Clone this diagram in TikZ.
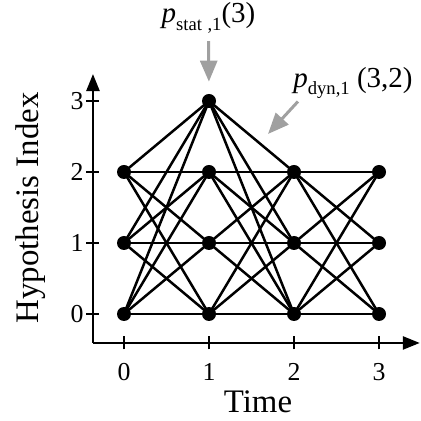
\documentclass[tikz,border=0pt]{standalone}
\usepackage{fontspec}
\setmainfont{Liberation Serif}
\usepackage{tikz}
\usetikzlibrary{
    arrows.meta,
    calc,
    positioning
}
\definecolor{hintgray}{HTML}{A0A0A0}
\tikzstyle{pointer}=[line width=0.06cm,draw=hintgray,-{Triangle[length=0.42cm,width=0.34cm]},hintgray]
\newcommand{\bigfont}{\fontsize{18.7}{22}\selectfont}
\newcommand{\tickfont}{\fontsize{14.7}{17}\selectfont}
\newcommand{\labfont}{\fontsize{16.5}{19}\selectfont}
\newcommand{\subfont}{\fontsize{10.6}{12}\selectfont}

\begin{document}
\begin{tikzpicture}[
    x=1.7cm,
    y=1.42cm,
    state/.style={
        circle,
        fill=black,
        inner sep=0pt,
        minimum size=0.28cm
    },
    edge/.style={
        line width=0.05cm,
        draw=black
    },
    axis/.style={
        line width=0.05cm,
        draw=black,
        -{Triangle[length=0.34cm,width=0.26cm]}
    },
    tick/.style={
        line width=0.05cm,
        draw=black
    },
    ticklabel/.style={
        inner sep=0pt,
        font=\tickfont
    }
]
\useasboundingbox (-1.4588,-1.507) rectangle (3.4941,4.4225);

% trellis states
\foreach \t in {0,2,3}
    \foreach \i in {0,1,2}
        \node[state] (s\t\i) at (\t,\i) {};
\foreach \i in {0,...,3}
    \node[state] (s1\i) at (1,\i) {};

% transitions
\foreach \i in {0,1,2}
    \foreach \j in {0,...,3}
        \draw[edge] (s0\i.center) -- (s1\j.center);
\foreach \i in {0,...,3}
    \foreach \j in {0,1,2}
        \draw[edge] (s1\i.center) -- (s2\j.center);
\foreach \i in {0,1,2}
    \foreach \j in {0,1,2}
        \draw[edge] (s2\i.center) -- (s3\j.center);

% axes
\coordinate (corner) at (-0.365,-0.408);
\coordinate (ytip) at (-0.365,3.38);
\coordinate (xtip) at (3.48,-0.408);
\draw[axis] (corner) -- (ytip);
\draw[axis] (corner) -- (xtip);
\foreach \i in {0,...,3} {
    \draw[tick] ([xshift=-0.13cm]-0.365,\i) -- ([xshift=0.13cm]-0.365,\i);
    \node[ticklabel] (ylab\i) at (-0.553,\i) {\i};
}
\foreach \t in {0,...,3} {
    \draw[tick] ([yshift=-0.13cm]\t,-0.408) -- ([yshift=0.13cm]\t,-0.408);
    \node[ticklabel] (xlab\t) at (\t,-0.817) {\t};
}
\node[font=\bigfont,rotate=90,inner sep=0pt] (ylabel) at (-1.102,1.493) {Hypothesis Index};
\node[font=\bigfont,inner sep=0pt] (xlabel) at (1.576,-1.239) {Time};

% probability hints
\node[anchor=base,inner sep=0pt,font=\labfont] (statlbl) at (0.994,4.10)
{\textit{p}\raisebox{-4.5pt}{\subfont stat\kern0.3em,1}(3)};
\node[anchor=base west,inner sep=0pt,font=\labfont] (dynlbl) at (1.988,3.197)
{\textit{p}\raisebox{-4.5pt}{\subfont dyn,1}\kern0.25em(3,2)};
\coordinate (dyntip) at (1.694,2.535);
\draw[pointer,shorten <=0.14cm,shorten >=0.24cm] (statlbl.south) -- (s13.north);
\draw[pointer,shorten <=0.06cm] ([xshift=0.14cm]dynlbl.south west) -- (dyntip);
\end{tikzpicture}
\end{document}
